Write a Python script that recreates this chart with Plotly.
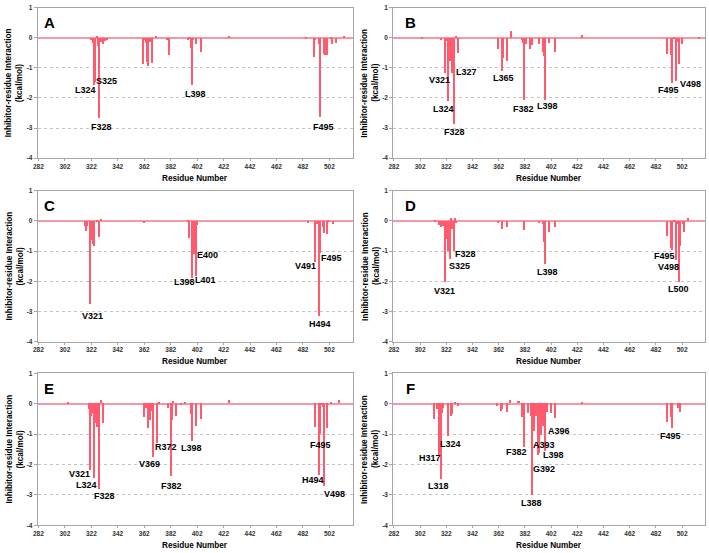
import plotly.graph_objects as go

# ---------------- data (residue number -> interaction energy, kcal/mol) ----------------
A_res = [322, 323, 324, 325, 326, 327, 328, 329, 331, 332, 334,
         361, 362, 363, 364, 365, 366, 368, 371, 379, 380, 381,
         395, 396, 397, 398, 399, 401, 405, 426,
         484, 490, 491, 494, 495, 498, 499, 500, 503, 504, 507, 513]
A_val = [-0.05, -0.15, -1.56, -1.45, 0.08, -0.25, -2.65, -0.12, -0.2, -0.1, -0.05,
         -0.88, -0.08, -0.15, -0.8, -0.92, -0.12, -0.84, 0.08, -0.05, -0.08, -0.58,
         -0.05, 0.05, -0.32, -1.58, -0.05, -0.2, -0.47, 0.08,
         0.04, -0.62, -0.05, -0.2, -2.62, -0.52, -0.58, -0.55, 0.05, -0.2, -0.15, 0.07]

B_res = [304, 318, 321, 322, 324, 325, 326, 327, 328, 330, 331,
         362, 365, 366, 369, 372, 380, 381, 382, 383, 386, 388,
         393, 396, 397, 398, 401, 405, 426,
         491, 494, 495, 496, 498, 499, 500, 502, 515]
B_val = [0.05, -0.05, -1.18, -0.1, -2.1, -0.75, -0.05, -1.15, -2.85, 0.08, -0.5,
         -0.35, -1.1, -0.65, -0.75, 0.22, -0.05, -0.15, -2.05, -0.2, -0.38, -0.22,
         -0.2, -0.45, -0.6, -2.05, -0.18, -0.45, 0.1,
         -0.52, -0.58, -1.5, 0.05, -1.42, -0.12, -0.88, -0.2, 0.05]

C_res = [317, 318, 319, 321, 322, 323, 324, 326, 328, 329, 362,
         395, 396, 398, 399, 400, 401, 402,
         486, 491, 493, 494, 495, 497, 498, 500, 501, 505]
C_val = [-0.15, -0.32, -0.15, -2.75, -0.62, -0.75, -0.82, 0.05, -0.52, 0.08, -0.03,
         0.04, -0.55, -1.88, -0.3, -1.1, -1.8, -0.12,
         -0.04, -1.35, -0.1, -3.15, -1.05, -0.2, -0.4, -0.42, 0.03, -0.1]

D_res = [314, 317, 318, 319, 320, 321, 322, 324, 325, 326, 327, 328, 329, 330,
         362, 365, 369, 382, 393, 396, 397, 398, 401, 405,
         491, 494, 495, 496, 498, 499, 500, 501, 503, 504, 507]
D_val = [0.05, -0.12, -0.2, -0.1, -0.15, -2.0, -0.6, -1.0, -1.25, 0.12, -0.25, -1.0, 0.12, -0.05,
         -0.05, -0.25, -0.18, -0.28, -0.05, -0.1, -0.7, -1.42, -0.35, -0.18,
         -0.48, -0.88, -0.95, 0.03, -1.3, -0.08, -2.0, -0.82, -0.1, -0.35, 0.1]

E_res = [304, 320, 321, 322, 323, 324, 325, 326, 328, 329, 331,
         362, 363, 365, 366, 368, 369, 372, 373, 380, 382, 383, 384, 386, 390, 393,
         397, 398, 401, 405, 426,
         491, 494, 495, 496, 497, 498, 500, 503, 509]
E_val = [0.04, -0.2, -2.2, -0.4, -0.3, -2.45, -0.65, -0.78, -2.8, 0.1, -0.65,
         -0.45, -0.15, -0.82, -0.55, -0.25, -1.75, -1.3, 0.04, -0.15, -2.4, -0.55, 0.08, -0.4, -0.05, 0.03,
         -0.35, -1.25, -0.75, -0.5, 0.12,
         -0.78, -2.35, -1.0, -0.05, -0.12, -2.7, -0.8, 0.05, 0.12]

F_res = [313, 315, 317, 318, 319, 320, 324, 326, 327, 329, 331,
         361, 364, 365, 369, 371, 377, 378, 380, 381, 382, 385, 387, 388, 389, 390,
         391, 392, 393, 394, 395, 396, 397, 398, 399, 402, 405, 426,
         491, 494, 495, 499, 501]
F_val = [-0.5, -0.2, -1.7, -2.47, -0.3, -0.15, -1.08, -0.4, -0.35, 0.03, -0.1,
         -0.1, -0.25, -0.2, -0.28, 0.12, 0.08, 0.08, -0.45, -0.05, -1.42, -0.3, -0.4, -3.02, -0.9, -0.35,
         -0.4, -1.68, -1.62, -0.35, -1.05, -0.75, -0.3, -1.55, -0.28, -0.3, -0.48, 0.03,
         -0.62, -0.45, -0.82, -0.15, -0.28]

# residue labels: text, anchor residue, anchor energy
A_lbl = [("L324", 317.4, -1.73), ("S325", 333.6, -1.43), ("F328", 329.9, -2.96),
         ("L398", 400.6, -1.87), ("F495", 497.4, -2.96)]
B_lbl = [("V321", 316.5, -1.41), ("L327", 337.8, -1.13), ("L324", 320.2, -2.37),
         ("F328", 328.5, -3.14), ("L365", 365.3, -1.35), ("F382", 381.1, -2.37),
         ("L398", 399.2, -2.26), ("F495", 491.4, -1.74), ("V498", 508.2, -1.52)]
C_lbl = [("V321", 323.1, -3.16), ("E400", 409.9, -1.12), ("L398", 392.4, -2.04),
         ("L401", 408.1, -1.97), ("V491", 484.1, -1.5), ("F495", 503.6, -1.23),
         ("H494", 494.9, -3.4)]
D_lbl = [("F328", 337.0, -1.1), ("S325", 332.0, -1.48), ("V321", 320.7, -2.31),
         ("L398", 399.2, -1.7), ("F495", 488.7, -1.15), ("V498", 491.9, -1.52),
         ("L500", 499.4, -2.25)]
E_lbl = [("V321", 313.1, -2.3), ("L324", 318.1, -2.66), ("F328", 331.6, -3.04),
         ("V369", 366.1, -1.98), ("R372", 378.6, -1.44), ("L398", 398.1, -1.46),
         ("F382", 382.4, -2.71), ("F495", 495.6, -1.35), ("H494", 489.9, -2.52),
         ("V498", 506.1, -2.97)]
F_lbl = [("L324", 325.5, -1.33), ("H317", 309.75, -1.78), ("L318", 316.25, -2.71),
         ("F382", 375.5, -1.6), ("A393", 396.25, -1.35), ("A396", 408.0, -0.89),
         ("L398", 403.75, -1.7), ("G392", 396.25, -2.16), ("L388", 386.75, -3.27),
         ("F495", 493.0, -1.05)]

X_TICKS = [282, 302, 322, 342, 362, 382, 402, 422, 442, 462, 482, 502]
Y_TICKS = [1, 0, -1, -2, -3, -4]
Y_TICKTEXT = ["1", "0", "-1", "-2", "-3", "-4"]
PANEL_NAMES = ["A", "B", "C", "D", "E", "F"]

# ---------------- styling / layout ----------------
W, H = 709, 553
FONT = "Liberation Sans, Arial, sans-serif"
BAR = "#ff5a6e"
PINK = "#f49aa6"
AXIS = "#a6a6a6"

col_dom = [(33 / W, 350 / W), (391 / W, 705 / W)]
row_dom = [(1 - 156 / H, 1 - 4 / H), (1 - 342 / H, 1 - 189 / H), (1 - 528 / H, 1 - 374 / H)]
letter_dx = [11.5, 17]

data = [(A_res, A_val, A_lbl), (B_res, B_val, B_lbl), (C_res, C_val, C_lbl),
        (D_res, D_val, D_lbl), (E_res, E_val, E_lbl), (F_res, F_val, F_lbl)]

fig = go.Figure()
annotations = []
layout = {}
for i, (res, val, lbl) in enumerate(data):
    n = i + 1
    r, c = divmod(i, 2)
    xa = "x" if n == 1 else f"x{n}"
    ya = "y" if n == 1 else f"y{n}"
    fig.add_trace(go.Bar(x=res, y=val, xaxis=xa, yaxis=ya, width=1.1,
                         marker=dict(color=BAR, line=dict(width=0)), showlegend=False))
    layout[f"xaxis{n}"] = dict(
        domain=list(col_dom[c]), anchor=ya, range=[281.5, 519.5],
        tickvals=X_TICKS, ticktext=[str(t) for t in X_TICKS],
        tickfont=dict(size=6.5, family=FONT, color="#333333", weight="bold"),
        ticks="outside", ticklen=2, tickcolor=AXIS,
        showgrid=False, zeroline=False, showline=True, mirror=True,
        linecolor=AXIS, linewidth=1)
    layout[f"yaxis{n}"] = dict(
        domain=list(row_dom[r]), anchor=xa, range=[-4, 1],
        tickvals=Y_TICKS, ticktext=Y_TICKTEXT,
        tickfont=dict(size=6.5, family=FONT, color="#333333", weight="bold"),
        ticks="outside", ticklen=3, tickcolor=AXIS,
        showgrid=True, gridcolor="#c4c4c4", griddash="dot", gridwidth=1,
        zeroline=True, zerolinecolor=PINK, zerolinewidth=1.5,
        showline=True, mirror=True, linecolor=AXIS, linewidth=1)
    xd = f"{xa} domain"
    yd = f"{ya} domain"
    # panel letter
    annotations.append(dict(text=PANEL_NAMES[i], xref=xd, yref=yd, x=0, y=1,
                            xanchor="center", yanchor="middle",
                            xshift=letter_dx[c], yshift=-15, showarrow=False,
                            font=dict(size=15, family=FONT, color="black", weight="bold")))
    # axis titles
    annotations.append(dict(text="Residue Number", xref=xd, yref=yd, x=0.5, y=0,
                            xanchor="center", yanchor="middle", yshift=-20, showarrow=False,
                            font=dict(size=8.2, family=FONT, color="black", weight="bold")))
    annotations.append(dict(text="Inhibitor-residue Interaction", xref=xd, yref=yd, x=0, y=0.5,
                            xanchor="center", yanchor="middle", xshift=-28.5, textangle=-90,
                            showarrow=False,
                            font=dict(size=8.2, family=FONT, color="black", weight="bold")))
    annotations.append(dict(text="(kcal/mol)", xref=xd, yref=yd, x=0, y=0.5,
                            xanchor="center", yanchor="middle", xshift=-17.5, textangle=-90,
                            showarrow=False,
                            font=dict(size=8.2, family=FONT, color="black", weight="bold")))
    # residue labels
    for txt, lx, ly in lbl:
        annotations.append(dict(text=txt, xref=xa, yref=ya, x=lx, y=ly,
                                xanchor="center", yanchor="middle", showarrow=False,
                                font=dict(size=9, family=FONT, color="black", weight="bold")))

fig.update_layout(**layout)
fig.update_layout(width=W, height=H, margin=dict(l=0, r=0, t=0, b=0),
                  paper_bgcolor="white", plot_bgcolor="white", hovermode=False,
                  bargap=0, annotations=annotations, font=dict(family=FONT))
fig.write_html("out.html", config={"displayModeBar": False},
               post_script="document.body.style.margin='0px';document.body.style.overflow='hidden';")
